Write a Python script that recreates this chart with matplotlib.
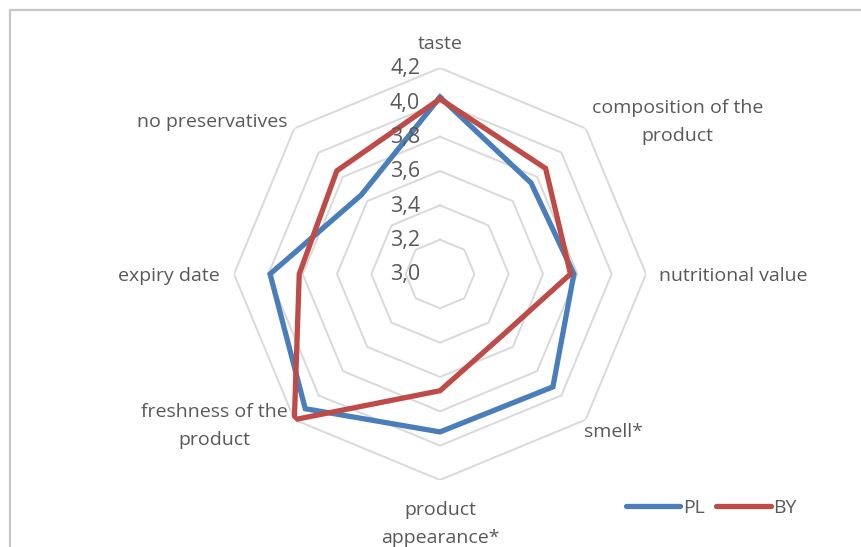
import numpy as np
import matplotlib
matplotlib.use("Agg")
import matplotlib.pyplot as plt
from matplotlib.patches import Rectangle

# categories clockwise from top
categories = [
    "taste",
    "composition of the\nproduct",
    "nutritional value",
    "smell*",
    "product\nappearance*",
    "freshness of the\nproduct",
    "expiry date",
    "no preservatives",
]
pl_values = [4.03, 3.75, 3.78, 3.93, 3.92, 4.11, 3.99, 3.65]
by_values = [4.02, 3.87, 3.76, 3.51, 3.68, 4.20, 3.82, 3.85]
r_levels = [3.0, 3.2, 3.4, 3.6, 3.8, 4.0, 4.2]
r_labels = ["3,0", "3,2", "3,4", "3,6", "3,8", "4,0", "4,2"]

plt.rcParams["font.family"] = ["Open Sans", "DejaVu Sans"]
text_color = "#595959"

fig = plt.figure(figsize=(8.61, 5.47), dpi=100)
ax = fig.add_axes([0.2718, 0.1225, 0.4785, 0.7532], projection="polar")
ax.set_theta_zero_location("N")
ax.set_theta_direction(-1)
ax.set_ylim(3.0, 4.2)
ax.grid(False)
ax.spines["polar"].set_visible(False)
ax.set_xticks([])
ax.set_yticks([])
ax.patch.set_alpha(0)

n = len(categories)
angles = np.arange(n) * 2 * np.pi / n
closed = np.append(angles, angles[0])

# octagon gridlines (no spokes, like excel)
for lev in r_levels[1:]:
    ax.plot(closed, [lev] * (n + 1), color="#D9D9D9", lw=1.4, zorder=1)

# series
ax.plot(closed, pl_values + pl_values[:1], color="#4A7EBB", lw=3.8,
        solid_joinstyle="miter", zorder=3, label="PL")
ax.plot(closed, by_values + by_values[:1], color="#BE4B48", lw=3.8,
        solid_joinstyle="miter", zorder=4, label="BY")

# radial tick labels
for lev, lab in zip(r_levels, r_labels):
    ax.annotate(lab, xy=(0, lev), xytext=(-20, -1), textcoords="offset pixels",
                ha="right", va="center", fontsize=15.5, color=text_color,
                zorder=5, annotation_clip=False)

# category labels
aligns = [
    ("center", "bottom", (0, 6)),
    ("left", "center", (0, 0)),
    ("left", "center", (4, -2)),
    ("left", "center", (-8, -6)),
    ("center", "top", (0, -12)),
    ("right", "center", (0, 0)),
    ("right", "center", (-5, -2)),
    ("right", "center", (0, 0)),
]
for a, lab, (ha, va, off) in zip(angles, categories, aligns):
    ax.annotate(lab, xy=(a, 4.2), xytext=(off[0] + 9 * np.sin(a), off[1] + 9 * np.cos(a)),
                textcoords="offset pixels", ha=ha, va=va, multialignment="center",
                fontsize=14, color=text_color, annotation_clip=False,
                linespacing=1.7)

leg = fig.legend(loc="center", bbox_to_anchor=(0.826, 0.0713), ncol=2,
                 frameon=False, fontsize=14, handlelength=2.8,
                 handletextpad=0.12, columnspacing=0.6, labelcolor=text_color)
for h in leg.get_lines():
    h.set_solid_capstyle("round")

# chart border (partly cropped in the original)
fig.add_artist(Rectangle((10 / 861, -0.1), 1.2, 1.1 - 10 / 547,
                         transform=fig.transFigure, fill=False,
                         edgecolor="#C8C8C8", lw=1.6))

plt.savefig("out.png", dpi=100)
